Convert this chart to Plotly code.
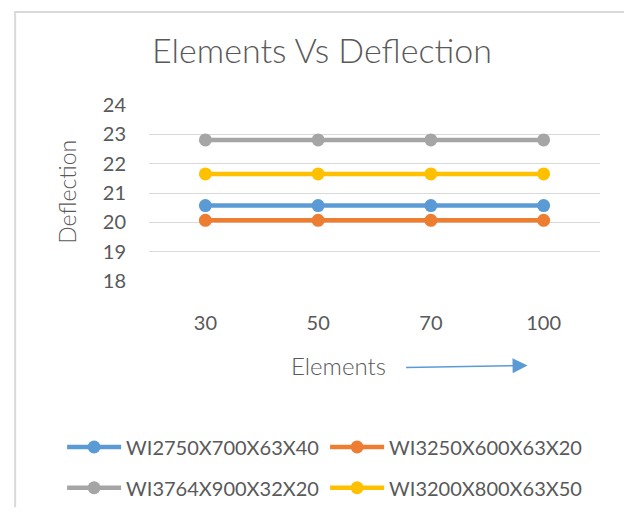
import plotly.graph_objects as go

elements = ["30", "50", "70", "100"]
series_names = ["WI2750X700X63X40", "WI3250X600X63X20", "WI3764X900X32X20", "WI3200X800X63X50"]
wi2750 = [20.57, 20.57, 20.57, 20.57]
wi3250 = [20.07, 20.07, 20.07, 20.07]
wi3764 = [22.81, 22.81, 22.81, 22.81]
wi3200 = [21.65, 21.65, 21.65, 21.65]
y_ticks = [18, 19, 20, 21, 22, 23, 24]

colors = ["#5B9BD5", "#ED7D31", "#A5A5A5", "#FFC000"]
legends = ["legend", "legend", "legend2", "legend2"]
values = [wi2750, wi3250, wi3764, wi3200]

FONT = "Lato"
TXT = "#595959"

# the page body has an 8px margin; work in page pixels and shift
O = 8
W, H = 632 - O, 519 - O
# plot area in page px: x 149..600.5, y 104.7..286
L = 149 - O
R = 632 - 600.5
T = 104.7 - O
B = 519 - 286
pw, ph = W - L - R, H - T - B

def px(x):
    return (x - O - L) / pw

def py(y):
    return (H - B - (y - O)) / ph

fig = go.Figure()
for name, vals, col, lg in zip(series_names, values, colors, legends):
    fig.add_trace(go.Scatter(
        x=elements, y=vals, name=name, mode="lines+markers",
        line=dict(color=col, width=4.5),
        marker=dict(color=col, size=13),
        legend=lg,
    ))

leg_common = dict(
    orientation="h", xanchor="left", yanchor="middle",
    font=dict(family=FONT, size=20, color=TXT, weight=400),
    entrywidth=194, entrywidthmode="pixels",
    itemwidth=54, bgcolor="rgba(0,0,0,0)",
)

fig.update_layout(
    width=W, height=H,
    margin=dict(l=L, r=R, t=T, b=B, pad=0),
    paper_bgcolor="white", plot_bgcolor="white",
    font=dict(family=FONT, color=TXT),
    title=dict(text="Elements Vs Deflection", xref="container", yref="container",
               x=(322 - O) / W, xanchor="center", y=1 - (51 - O) / H, yanchor="middle",
               font=dict(family=FONT, size=34, color=TXT, weight=300)),
    showlegend=True,
    legend=dict(x=px(62), y=py(457), **leg_common),
    legend2=dict(x=px(62), y=py(499), **leg_common),
    xaxis=dict(type="category", showgrid=False, zeroline=False, showline=False,
               ticks="", ticklabelstandoff=28,
               tickfont=dict(family=FONT, size=20, color=TXT, weight=400),
               range=[-0.5, 3.5]),
    yaxis=dict(range=[18, 24], tickvals=y_ticks, showgrid=True, gridcolor="#D9D9D9",
               gridwidth=1, zeroline=False, showline=False, ticks="",
               ticklabelstandoff=22,
               tickfont=dict(family=FONT, size=20, color=TXT, weight=400)),
)

# axis titles as annotations
fig.add_annotation(text="Deflection", xref="paper", yref="paper", x=px(67), y=py(194),
                   textangle=-90, showarrow=False, xanchor="center", yanchor="middle",
                   font=dict(family=FONT, size=23, color=TXT, weight=300))
fig.add_annotation(text="Elements", xref="paper", yref="paper", x=px(339), y=py(373),
                   showarrow=False, xanchor="center", yanchor="middle",
                   font=dict(family=FONT, size=24, color=TXT, weight=300))
# arrow
fig.add_annotation(text="", xref="paper", yref="paper", x=px(528), y=py(373),
                   ax=-123, ay=2, showarrow=True, arrowhead=2, arrowsize=2,
                   arrowwidth=1.5, arrowcolor="#5B9BD5")

# chart border: left, top and right edges (bottom lies below the page)
border = dict(color="#D9D9D9", width=2)
x_l, x_r, y_t, y_b = px(15), px(630), py(9), py(519)
fig.add_shape(type="path", xref="paper", yref="paper",
              path=f"M{x_l},{y_b} L{x_l},{y_t} L{x_r},{y_t} L{x_r},{y_b}",
              line=border, layer="below")

fig.write_html("out.html")
